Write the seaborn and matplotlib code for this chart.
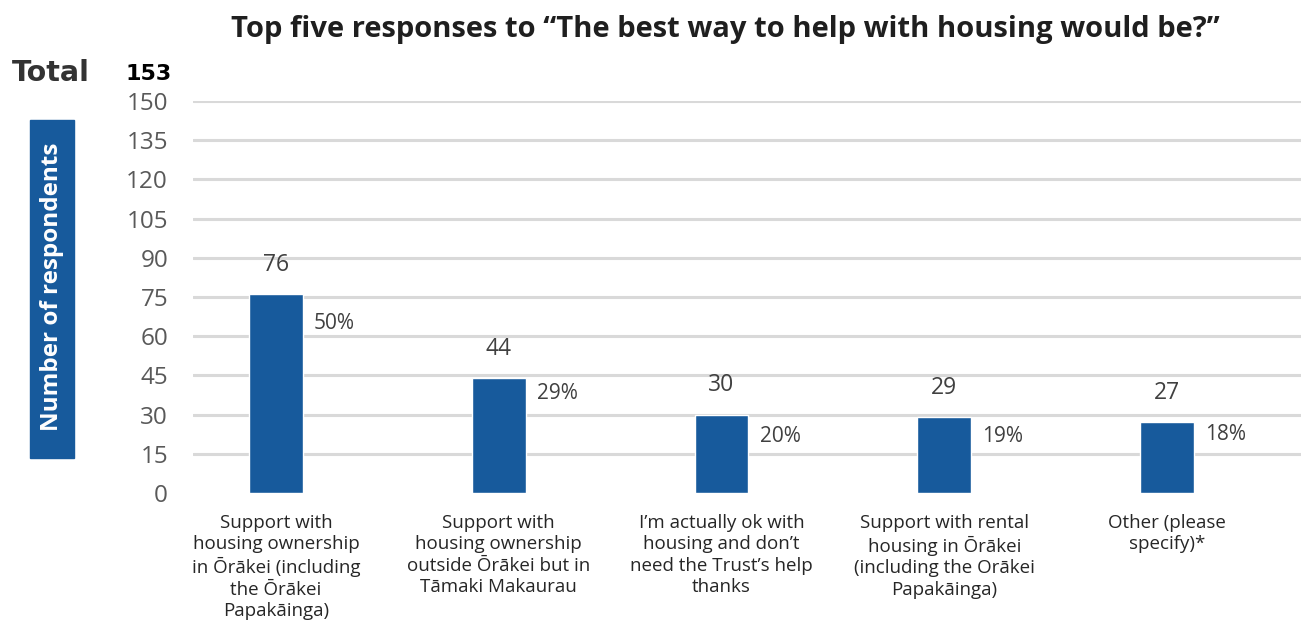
import matplotlib
matplotlib.use("Agg")
import matplotlib.pyplot as plt
import seaborn as sns
import pandas as pd
from matplotlib.patches import Rectangle

# data
categories = [
    "Support with\nhousing ownership\nin Ōrākei (including\nthe Ōrākei\nPapakāinga)",
    "Support with\nhousing ownership\noutside Ōrākei but in\nTāmaki Makaurau",
    "I’m actually ok with\nhousing and don’t\nneed the Trust’s help\nthanks",
    "Support with rental\nhousing in Ōrākei\n(including the Orākei\nPapakāinga)",
    "Other (please\nspecify)*",
]
counts = [76, 44, 30, 29, 27]
percents = ["50%", "29%", "20%", "19%", "18%"]
total = 153
yticks = list(range(0, 151, 15))

df = pd.DataFrame({"cat": categories, "n": counts})

sns.set_theme(style="white")
plt.rcParams["font.family"] = ["Open Sans", "DejaVu Sans"]

blue = "#175a9c"
fig = plt.figure(figsize=(13.01, 6.22), dpi=100)
ax = fig.add_axes([193 / 1301, 129 / 622, 1 - 193 / 1301, 392 / 622])

sns.barplot(data=df, x="cat", y="n", color=blue, width=0.242, saturation=1, ax=ax)

ax.set_ylim(0, 150)
ax.set_xlim(-0.3726, 4.6016)
ax.set_yticks(yticks)
for y in yticks[1:]:
    ax.axhline(y, color="#d9d9d9", lw=2.2, zorder=0)
for s in ax.spines.values():
    s.set_visible(False)
ax.set_xlabel("")
ax.set_ylabel("")
ax.tick_params(axis="y", length=0, pad=18, labelsize=17.5, labelcolor="#595959")
ax.tick_params(axis="x", length=0, pad=15, labelsize=13.5, labelcolor="#262626")
for t in ax.get_xticklabels():
    t.set_linespacing(1.25)
    t.set_va("top")

# percent label offsets below bar top (points)
pct_drop = [21, 11, 16, 14, 9]
for i, (v, p) in enumerate(zip(counts, percents)):
    ax.annotate(str(v), (i, v), xytext=(0, 21), textcoords="offset points",
                ha="center", va="center", fontsize=16.5, color="#404040")
    ax.annotate(p, (i + 0.121, v), xytext=(8, -pct_drop[i]), textcoords="offset points",
                ha="left", va="center", fontsize=15, color="#404040")

fig.text(725 / 1301, 1 - 29 / 622, "Top five responses to “The best way to help with housing would be?”",
         ha="center", va="center", fontsize=21, fontweight="bold", color="#1f1f1f")

fig.text(12 / 1301, 1 - 73 / 622, "Total", ha="left", va="center", fontsize=20.5,
         fontweight="bold", color="#333333", family="DejaVu Sans")
fig.text(125 / 1301, 1 - 74 / 622, str(total), ha="left", va="center", fontsize=16,
         fontweight="bold", color="black", family="DejaVu Sans")

fig.patches.append(Rectangle((30 / 1301, 164 / 622), 44 / 1301, 338 / 622,
                             transform=fig.transFigure, color=blue, zorder=0))
fig.text(52 / 1301, 1 - 287 / 622, "Number of respondents", rotation=90, ha="center",
         va="center", fontsize=17.5, fontweight="bold", color="white")

fig.savefig("out.png", dpi=100)
